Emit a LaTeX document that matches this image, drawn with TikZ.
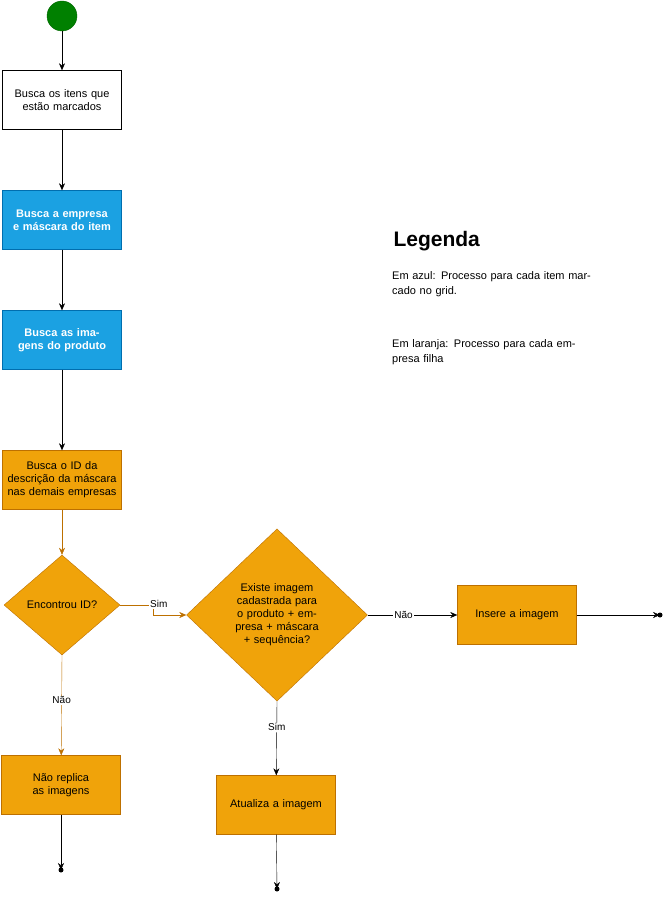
\documentclass[tikz,border=0pt]{standalone}
\usepackage{fontspec}
\setmainfont{Liberation Sans}
\usetikzlibrary{shapes.geometric,arrows.meta}
\definecolor{azul}{HTML}{1BA1E2}
\definecolor{azulb}{HTML}{006EAF}
\definecolor{laranja}{HTML}{F0A30A}
\definecolor{laranjab}{HTML}{BD7000}
\tikzset{
  caixa/.style={draw, minimum width=119pt, minimum height=59pt, text width=112pt, align=center, font=\fontsize{11}{13}\selectfont},
  azulc/.style={caixa, fill=azul, draw=azulb, text=white, font=\fontsize{11}{13}\selectfont\bfseries},
  laranjac/.style={caixa, fill=laranja, draw=laranjab},
  losango/.style={diamond, draw=laranjab, fill=laranja, inner sep=0pt, align=center, font=\fontsize{11}{13}\selectfont},
  seta/.style={-{Stealth[length=7pt,width=6pt]}},
  rotulo/.style={fill=white, inner sep=1pt, font=\fontsize{10}{12}\selectfont},
}
\begin{document}
\begin{tikzpicture}[x=1pt,y=-1pt]
	\useasboundingbox (0,0) rectangle (671,901);
	% inicio
	\node[circle, draw=green!40!black, fill=green!50!black, minimum size=30pt] (ini) at (62,16) {};
	\node[caixa] (itens) at (62,100) {Busca os itens que estão marcados};
	\node[azulc] (empresa) at (62,220) {Busca a empresa e máscara do item};
	\node[azulc] (imagens) at (62,340) {Busca as imagens do produto};
	\node[laranjac] (id) at (62,480) {Busca o ID da descrição da máscara nas demais empresas};
	\node[losango, minimum width=116pt, minimum height=100pt] (encontrou) at (62,605) {Encontrou ID?};
	\node[losango, minimum width=181pt, minimum height=170pt, text width=110pt] (existe) at (277,615) {Existe imagem cadastrada para o produto + empresa + máscara + sequência?};
	\node[laranjac] (insere) at (517,615) {Insere a imagem};
	\node[laranjac] (atualiza) at (276,805) {Atualiza a imagem};
	\node[laranjac] (naorep) at (61,785) {Não replica as imagens};
	% fins
	\coordinate (fim1) at (660,615);
	\coordinate (fim2) at (277,889);
	\coordinate (fim3) at (61,870);
	\coordinate (dobra) at (153,605);
	\coordinate (dobrab) at (153,615);
	% conectores
	\draw[seta] (ini) -- (itens);
	\draw[seta] (itens) -- (empresa);
	\draw[seta] (empresa) -- (imagens);
	\draw[seta] (imagens) -- (id);
	\draw[seta, laranjab] (id) -- (encontrou);
	\draw[seta, laranjab] (encontrou.east) -- (dobra) node[rotulo, text=black, right=-4pt, yshift=1pt]{Sim} -- (dobrab) -- (existe.west);
	\draw[seta, laranjab] (encontrou.south) -- node[rotulo, text=black, pos=0.45]{Não} (naorep);
	\draw[seta] (existe.east) -- node[rotulo, pos=0.4]{Não} (insere);
	\draw[seta] (existe.south) -- node[rotulo, pos=0.35]{Sim} (atualiza);
	\draw[seta] (insere) -- (fim1);
	\draw[seta] (atualiza) -- (fim2);
	\draw[seta] (naorep) -- (fim3);
	\foreach \f in {fim1,fim2,fim3} {
	    \fill (\f) circle(2.5pt);
	}
	% legenda
	\node[anchor=west, font=\fontsize{21}{25}\selectfont\bfseries] (leg) at (390,241) {Legenda};
	\node[anchor=north west, text width=200pt, font=\fontsize{11}{15}\selectfont, inner sep=0pt] (legazul) at (392,271) {Em azul: Processo para cada item marcado no grid.};
	\node[anchor=north west, text width=200pt, font=\fontsize{11}{15}\selectfont, inner sep=0pt] (leglar) at (392,339) {Em laranja: Processo para cada empresa filha};
\end{tikzpicture}
\end{document}
